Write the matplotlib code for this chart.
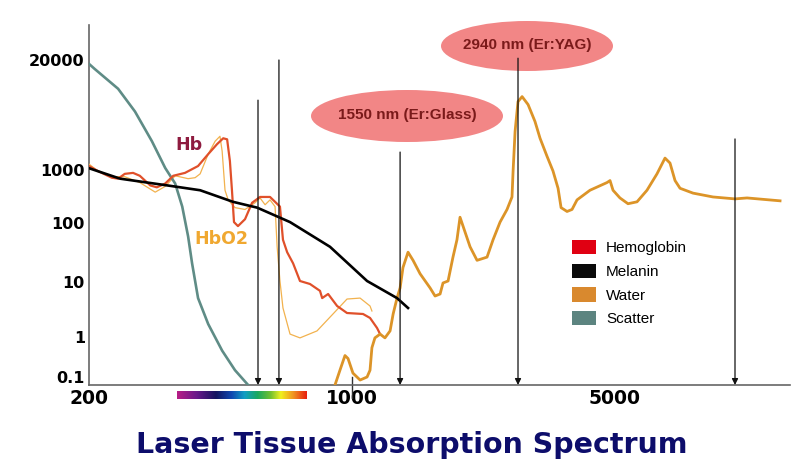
import numpy as np
import matplotlib.pyplot as plt
from matplotlib.patches import Ellipse, Patch
from matplotlib.colors import LinearSegmentedColormap

# wavelength (nm) and relative absorption
scatter_nm = [200, 207, 239, 265, 294, 319, 339, 354, 367, 376, 390, 415, 452, 489, 530]
scatter_abs = [18000, 15700, 9140, 4920, 2190, 1055, 556, 204, 59, 20.7, 5.1, 1.72, 0.456, 0.148, 0.063]

melanin_nm = [200, 242, 323, 395, 483, 560, 685, 875, 1098, 1319, 1411]
melanin_abs = [1050, 686, 512, 415, 251, 195, 104, 39.5, 10.4, 5.1, 3.37]

hb_nm = [200, 211, 230, 239, 249, 262, 273, 291, 303, 319, 335, 360, 390, 415, 438,
         455, 466, 474, 480, 486, 498, 520, 543, 570, 606, 644, 656, 673, 698, 728,
         774, 823, 834, 865, 914, 971, 1071, 1118, 1167, 1189]
hb_abs = [1114, 959, 716, 686, 846, 882, 778, 512, 471, 556, 778, 882, 1114, 1541, 2019,
          2372, 2306, 1275, 415, 104, 88.6, 118, 241, 310, 310, 204, 52, 32, 20.7, 10.4,
          9.2, 6.9, 5.1, 6.05, 3.66, 2.73, 2.62, 2.22, 1.46, 1.13]

hbo2_nm = [200, 211, 230, 249, 273, 300, 319, 339, 367, 383, 395, 415, 433, 446, 452,
           460, 469, 489, 520, 553, 570, 588, 606, 625, 633, 644, 656, 685, 728, 808,
           891, 971, 1052, 1118, 1131]
hbo2_abs = [1175, 959, 746, 746, 580, 382, 491, 778, 686, 716, 846, 1541, 2190, 2506, 1670,
            415, 273, 195, 180, 241, 297, 221, 273, 204, 39.5, 10.4, 3.37, 1.13, 0.95, 1.29,
            2.62, 4.9, 5.1, 3.66, 2.97]

water_nm = [902, 930, 959, 977, 1007, 1052, 1098, 1118, 1131, 1152, 1189, 1225, 1264, 1288,
            1319, 1344, 1368, 1411, 1455, 1519, 1615, 1665, 1717, 1748, 1803, 1858, 1904,
            1940, 1976, 2063, 2153, 2289, 2375, 2479, 2587, 2667, 2685, 2718, 2767, 2837,
            2943, 3070, 3167, 3304, 3428, 3536, 3602, 3736, 3852, 3972, 4300, 4773, 4861,
            4951, 5166, 5427, 5735, 6096, 6481, 6807, 7019, 7238, 7464, 8083, 9132, 10450,
            11250, 13770]
water_abs = [0.063, 0.148, 0.344, 0.29, 0.125, 0.084, 0.1, 0.148, 0.54, 0.95, 1.13, 0.95,
             1.29, 2.62, 5.1, 7.8, 17.6, 32, 23.3, 13.8, 7.8, 5.56, 6.05, 9.6, 10.4, 26.4,
             52, 128.5, 88.6, 39.5, 23.3, 26.4, 52, 104, 180, 310, 959, 2865, 6440, 7380,
             5940, 3750, 2372, 1458, 959, 452, 195, 165, 180, 273, 415, 580, 632, 415, 297,
             231, 251, 415, 846, 1383, 1208, 632, 452, 366, 310, 285, 297, 262]

# laser lines (arrows) and where they start
laser_nm = [563, 640, 1344, 2767, 10450]
laser_top = [6700, 20000, 1630, 21000, 2330]

y_ticks = [0.1, 1, 10, 100, 1000, 20000]
y_labels = ["0.1", "1", "10", "100", "1000", "20000"]
x_ticks = [200, 1000, 5000]
x_labels = ["200", "1000", "5000"]

legend_names = ["Hemoglobin", "Melanin", "Water", "Scatter"]
legend_colors = ["#e00012", "#0a0a0a", "#d9892e", "#5c8480"]

# the drawn y axis is not a clean log axis: piecewise log mapping
LOGK = np.array([-3, -1, 0, 1, 2, 3, np.log10(20000), 7])
HK = np.array([-72, 8, 48, 103, 162, 215, 325, 553])


def fwd(v):
    v = np.asarray(v, dtype=float)
    return np.interp(np.log10(np.clip(v, 1e-9, None)), LOGK, HK)


def inv(h):
    return 10 ** np.interp(np.asarray(h, dtype=float), HK, LOGK)


W, H = 800, 476


def px(x, y):
    return x / W, 1 - y / H


fig = plt.figure(figsize=(W / 100, H / 100), dpi=100)
ax = fig.add_axes([89 / W, 1 - 385 / H, 701 / W, 360 / H])
ax.patch.set_visible(False)
ax.set_xscale("log")
ax.set_yscale("function", functions=(fwd, inv))
ax.set_xlim(200, 200 * 10 ** (701 / 376))
ymin, ymax = float(inv(0)), float(inv(360))
ax.set_ylim(ymin, ymax)

ax.plot(hbo2_nm, hbo2_abs, color="#f2b24e", lw=0.9, zorder=3)
ax.plot(hb_nm, hb_abs, color="#e0502a", lw=1.6, zorder=4, solid_joinstyle="round")
ax.plot(melanin_nm, melanin_abs, color="black", lw=1.9, zorder=5)
ax.plot(water_nm, water_abs, color="#dc9428", lw=2.0, zorder=4, solid_joinstyle="round")
ax.plot(scatter_nm, scatter_abs, color="#5f8c86", lw=1.9, zorder=3)

for nm, top in zip(laser_nm, laser_top):
    ax.annotate("", xy=(nm, ymin), xytext=(nm, top), annotation_clip=False,
                arrowprops=dict(arrowstyle="-|>", color="#111111", lw=0.9,
                                mutation_scale=9, shrinkA=0, shrinkB=0), zorder=6)

ax.axvline(1000, ymin=-13 / 360, ymax=8 / 360, color="#333333", lw=1, clip_on=False)

for s in ["top", "right"]:
    ax.spines[s].set_visible(False)
for s in ["left", "bottom"]:
    ax.spines[s].set_color("#666666")
    ax.spines[s].set_linewidth(1.2)

ax.set_yticks(y_ticks)
ax.set_yticklabels(y_labels, fontsize=11.5, fontweight="bold", family="DejaVu Sans")
ax.set_xticks(x_ticks)
ax.set_xticklabels(x_labels, fontsize=13.5, fontweight="bold", family="DejaVu Sans")
ax.tick_params(axis="both", length=0, pad=3)
ax.minorticks_off()

# curve labels
fig.text(*px(189, 145), "Hb", color="#8e1b3f", fontsize=12.5, fontweight="bold",
         ha="center", va="center")
fig.text(*px(221, 239), "HbO2", color="#f0a830", fontsize=12.5, fontweight="bold",
         ha="center", va="center")

# laser callouts, drawn under the axes so the arrow lines show on top
for (cx, cy, ew, eh, label) in [(407, 116, 192, 52, "1550 nm (Er:Glass)"),
                                (527, 46, 172, 50, "2940 nm (Er:YAG)")]:
    e = Ellipse(px(cx, cy), ew / W, eh / H, transform=fig.transFigure,
                facecolor="#f28686", edgecolor="none", zorder=-1)
    fig.patches.append(e)
    fig.text(*px(cx, cy - 1), label, family="Liberation Sans", fontweight="bold",
             fontsize=11, color="#7a1a1a", ha="center", va="center", zorder=-0.5)

# legend
handles = [Patch(facecolor=c, edgecolor="none") for c in legend_colors]
fig.legend(handles, legend_names, loc="upper left", bbox_to_anchor=px(572, 240),
           frameon=False, borderpad=0, borderaxespad=0, handlelength=1.57,
           handleheight=1.05, handletextpad=0.65, labelspacing=0.55,
           prop={"family": "Liberation Sans", "size": 11})

# visible spectrum strip under the axis
spec = LinearSegmentedColormap.from_list("spec", [
    (0.0, "#b81e86"), (0.15, "#6a1a8a"), (0.3, "#141460"), (0.42, "#1048b0"),
    (0.52, "#109ec4"), (0.62, "#18a860"), (0.72, "#70c030"), (0.8, "#f0f020"),
    (0.9, "#f09020"), (1.0, "#e82010")])
cax = fig.add_axes([177 / W, 1 - 399 / H, 130 / W, 8 / H])
cax.imshow(np.linspace(0, 1, 256)[None, :], aspect="auto", cmap=spec)
cax.axis("off")

fig.text(*px(412, 445), "Laser Tissue Absorption Spectrum", color="#0d0d6b",
         fontsize=20.5, fontweight="bold", ha="center", va="center")

fig.savefig("out.png", dpi=100)
